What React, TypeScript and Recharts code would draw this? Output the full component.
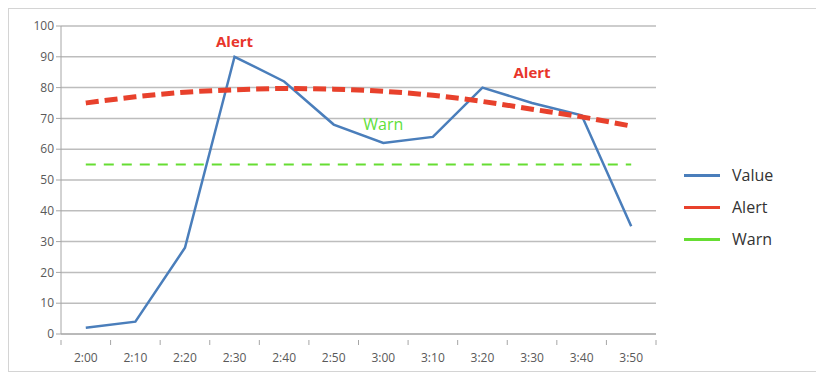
import React from 'react'
import {
  CartesianGrid,
  Line,
  LineChart,
  ReferenceDot,
  XAxis,
  YAxis
} from 'recharts'

const times = ['2:00', '2:10', '2:20', '2:30', '2:40', '2:50', '3:00', '3:10', '3:20', '3:30', '3:40', '3:50']
const values = [2, 4, 28, 90, 82, 68, 62, 64, 80, 75, 71, 35]
const alertLevels = [75, 77, 78.5, 79.3, 79.7, 79.5, 78.8, 77.5, 75.5, 73, 70.5, 67.5]
const warnLevels = [55, 55, 55, 55, 55, 55, 55, 55, 55, 55, 55, 55]
const yTicks = [0, 10, 20, 30, 40, 50, 60, 70, 80, 90, 100]

const series = [
  { key: 'Value', color: '#4a7ebb' },
  { key: 'Alert', color: '#e8412c' },
  { key: 'Warn', color: '#66dd33' }
]

const annotations = [
  { time: '2:30', y: 95, text: 'Alert', color: '#e8352b', bold: true },
  { time: '3:30', y: 85, text: 'Alert', color: '#e8352b', bold: true },
  { time: '3:00', y: 68, text: 'Warn', color: '#5fe03a', bold: false }
]

const data = times.map((time, i) => ({
  time,
  Value: values[i],
  Alert: alertLevels[i],
  Warn: warnLevels[i]
}))

const FONT = '"Open Sans", "Liberation Sans", sans-serif'

// Excel-style category ticks: marks sit on the band edges, labels in the middle
function TimeTick(props: any) {
  const { x, y, payload, index, visibleTicksCount } = props
  const half = payload.offset || 0
  const isLast = index === visibleTicksCount - 1
  return (
    <g>
      <line x1={x - half} x2={x - half} y1={y - 8} y2={y - 3} stroke="#a6a6a6" />
      {isLast && <line x1={x + half} x2={x + half} y1={y - 8} y2={y - 3} stroke="#a6a6a6" />}
      <text x={x} y={y + 14} textAnchor="middle" fill="#595959" fontSize={12}>
        {payload.value}
      </text>
    </g>
  )
}

function LegendBox() {
  return (
    <div style={{ position: 'absolute', left: 675, top: 150, fontSize: 16, color: '#333' }}>
      {series.map((s) => (
        <div key={s.key} style={{ display: 'flex', alignItems: 'center', height: 32 }}>
          <span style={{ display: 'inline-block', width: 36, height: 3, background: s.color, marginRight: 12 }} />
          {s.key}
        </div>
      ))}
    </div>
  )
}

export default function App() {
  return (
    <div style={{ position: 'relative', width: 810, height: 362, border: '1px solid #d4d4d4', fontFamily: FONT }}>
      <LineChart width={810} height={362} data={data} margin={{ top: 17, right: 163, bottom: 0, left: 0 }}>
        <CartesianGrid vertical={false} stroke="#bdbdbd" strokeWidth={1.5} />
        <XAxis
          dataKey="time"
          scale="band"
          stroke="#a6a6a6"
          tickLine={false}
          tick={<TimeTick />}
          tickMargin={8}
          height={37}
        />
        <YAxis
          domain={[0, 100]}
          ticks={yTicks}
          width={52}
          stroke="#a6a6a6"
          tick={{ fill: '#595959', fontSize: 12 }}
          tickSize={5}
          interval={0}
        />
        <Line dataKey="Value" stroke="#4a7ebb" strokeWidth={2.5} dot={false} isAnimationActive={false} />
        <Line
          dataKey="Alert"
          type="monotone"
          stroke="#e8412c"
          strokeWidth={5}
          strokeDasharray="13 6"
          dot={false}
          isAnimationActive={false}
        />
        <Line
          dataKey="Warn"
          stroke="#66dd33"
          strokeWidth={2}
          strokeDasharray="10 8"
          dot={false}
          isAnimationActive={false}
        />
        {annotations.map((a, i) => (
          <ReferenceDot
            key={i}
            x={a.time}
            y={a.y}
            r={0}
            stroke="none"
            label={{
              value: a.text,
              position: 'center',
              fill: a.color,
              fontSize: a.bold ? 15 : 16,
              fontWeight: a.bold ? 700 : 400
            }}
          />
        ))}
      </LineChart>
      <LegendBox />
    </div>
  )
}
